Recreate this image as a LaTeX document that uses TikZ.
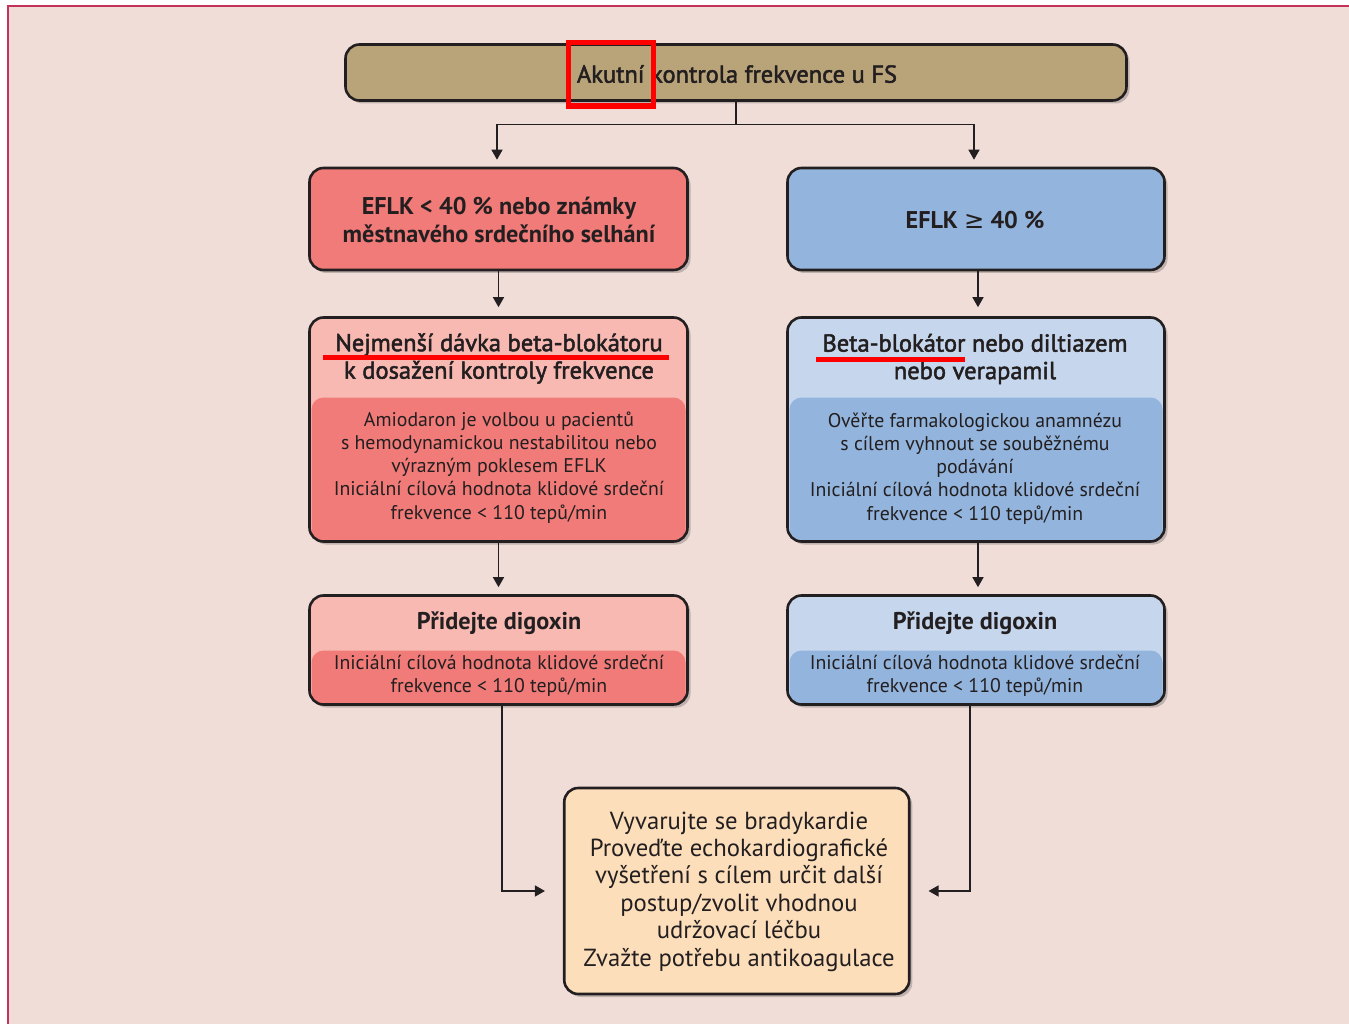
\documentclass[tikz,border=0pt]{standalone}
\usepackage{fontspec}
\setmainfont{PT Sans}
\newfontfamily\medf{PT Sans}[FakeBold=2]
\newfontfamily\symf{DejaVu Sans}
\usetikzlibrary{arrows.meta,shadows,calc}
\definecolor{bg}{HTML}{F1DDD8}
\definecolor{framecol}{HTML}{C4325A}
\definecolor{tan}{HTML}{B9A47A}
\definecolor{redD}{HTML}{F07B78}
\definecolor{redL}{HTML}{F7B9B2}
\definecolor{bluD}{HTML}{93B4DC}
\definecolor{bluL}{HTML}{C6D6EC}
\definecolor{peach}{HTML}{FDDEBB}
\definecolor{ink}{HTML}{231F20}
\definecolor{markred}{HTML}{FF0000}
\tikzset{
  box/.style={draw=ink, line width=2.6pt, rounded corners=14pt, inner sep=0pt,
    drop shadow={shadow xshift=3pt, shadow yshift=-3pt, opacity=0.3, fill=black!70}},
  twotone/.style n args={3}{fill=#1, path picture={
    \fill[#2, rounded corners=12pt] ([xshift=2pt,yshift=-12pt]path picture bounding box.south west)
      rectangle ([xshift=-2pt,yshift=#3]path picture bounding box.south east);}},
  body/.style={font=\fontsize{19.8}{23.2}\selectfont, align=center, text=ink, inner sep=0pt},
  head/.style={font=\bfseries\fontsize{24.2}{28}\selectfont, align=center, text=ink, inner sep=0pt},
  medtext/.style={font=\medf\fontsize{24.5}{27.5}\selectfont, align=center, text=ink, inner sep=0pt},
  bigtext/.style={font=\fontsize{24.7}{27.4}\selectfont, align=center, text=ink, inner sep=0pt},
  ln/.style={draw=ink, line width=1.4pt},
  arr/.style={ln, -{Triangle[width=11pt,length=10pt]}},
  annot/.style={draw=markred},
}
\begin{document}
\begin{tikzpicture}[x=1pt,y=-1pt]
\useasboundingbox (0,0) rectangle (1349,1024);
\fill[bg] (8,6) rectangle (1349,1024);
\draw[framecol, line width=2pt] (8,1024) -- (8,6) -- (1349,6);

% boxes
\node[box, fill=tan, minimum width=781pt, minimum height=56pt] (top) at (736,72.5) {};
\node[box, fill=redD, minimum width=378pt, minimum height=102pt] (red1) at (498.5,219) {};
\node[box, fill=bluD, minimum width=377pt, minimum height=102pt] (blue1) at (976,219) {};
\node[box, twotone={redL}{redD}{144pt}, minimum width=378pt, minimum height=224pt] (red2) at (498.5,429.5) {};
\node[box, twotone={bluL}{bluD}{144pt}, minimum width=377pt, minimum height=224pt] (blue2) at (976,429.5) {};
\node[box, twotone={redL}{redD}{54pt}, minimum width=378pt, minimum height=109pt] (red3) at (498.5,650) {};
\node[box, twotone={bluL}{bluD}{54pt}, minimum width=377pt, minimum height=109pt] (blue3) at (976,650) {};
\node[box, fill=peach, minimum width=345pt, minimum height=206pt] (bot) at (736.75,891) {};

% texts
\node[medtext] (ttop) at (737,74) {Akutní kontrola frekvence u FS};
\node[head] (tred1) at (499,220) {EFLK < 40 \% nebo známky\\městnavého srdečního selhání};
\node[head] (tblue1) at (975,220) {EFLK {\symf\mdseries ≥} 40 \%};
\node[medtext] (tred2a) at (499,358.5) {Nejmenší dávka beta-blokátoru\\k dosažení kontroly frekvence};
\node[body] (tred2b) at (499,467.5) {Amiodaron je volbou u pacientů\\s hemodynamickou nestabilitou nebo\\výrazným poklesem EFLK\\Iniciální cílová hodnota klidové srdeční\\frekvence < 110 tepů/min};
\node[medtext] (tblue2a) at (975,359) {Beta-blokátor nebo diltiazem\\nebo verapamil};
\node[body] (tblue2b) at (975,468.5) {Ověřte farmakologickou anamnézu\\s cílem vyhnout se souběžnému\\podávání\\Iniciální cílová hodnota klidové srdeční\\frekvence < 110 tepů/min};
\node[head] (tred3a) at (499,623) {Přidejte digoxin};
\node[body] (tred3b) at (499,675.5) {Iniciální cílová hodnota klidové srdeční\\frekvence < 110 tepů/min};
\node[head] (tblue3a) at (975,623) {Přidejte digoxin};
\node[body] (tblue3b) at (975,675.5) {Iniciální cílová hodnota klidové srdeční\\frekvence < 110 tepů/min};
\node[bigtext] (tbot) at (739,891.5) {Vyvarujte se bradykardie\\Proveďte echokardiografické\\vyšetření s cílem určit další\\postup/zvolit vhodnou\\udržovací léčbu\\Zvažte potřebu antikoagulace};

% connectors
\draw[ln] (top.south) -- ++(0,23) coordinate (tj);
\draw[arr, shorten >=7pt] (tj) -| ([xshift=-1.5pt]red1.north);
\draw[arr, shorten >=7pt] (tj) -| ([xshift=-2pt]blue1.north);
\draw[arr, shorten >=9pt] (red1.south) -- (red2.north);
\draw[arr, shorten >=9pt] ([xshift=2pt]blue1.south) -- ([xshift=2pt]blue2.north);
\draw[arr, shorten >=7pt] (red2.south) -- (red3.north);
\draw[arr, shorten >=7pt] ([xshift=2pt]blue2.south) -- ([xshift=2pt]blue3.north);
\draw[arr, shorten >=18pt] ([xshift=3.5pt]red3.south) |- (bot.west);
\draw[arr, shorten >=18pt] ([xshift=-6pt]blue3.south) |- (bot.east);

% red annotations
\draw[annot, line width=5.5pt] (568.5,42.5) rectangle (653.5,106);
\draw[annot, line width=5pt] (323,357) -- (669,357);
\draw[annot, line width=5pt] (816,359) -- (965,359);
\end{tikzpicture}
\end{document}
